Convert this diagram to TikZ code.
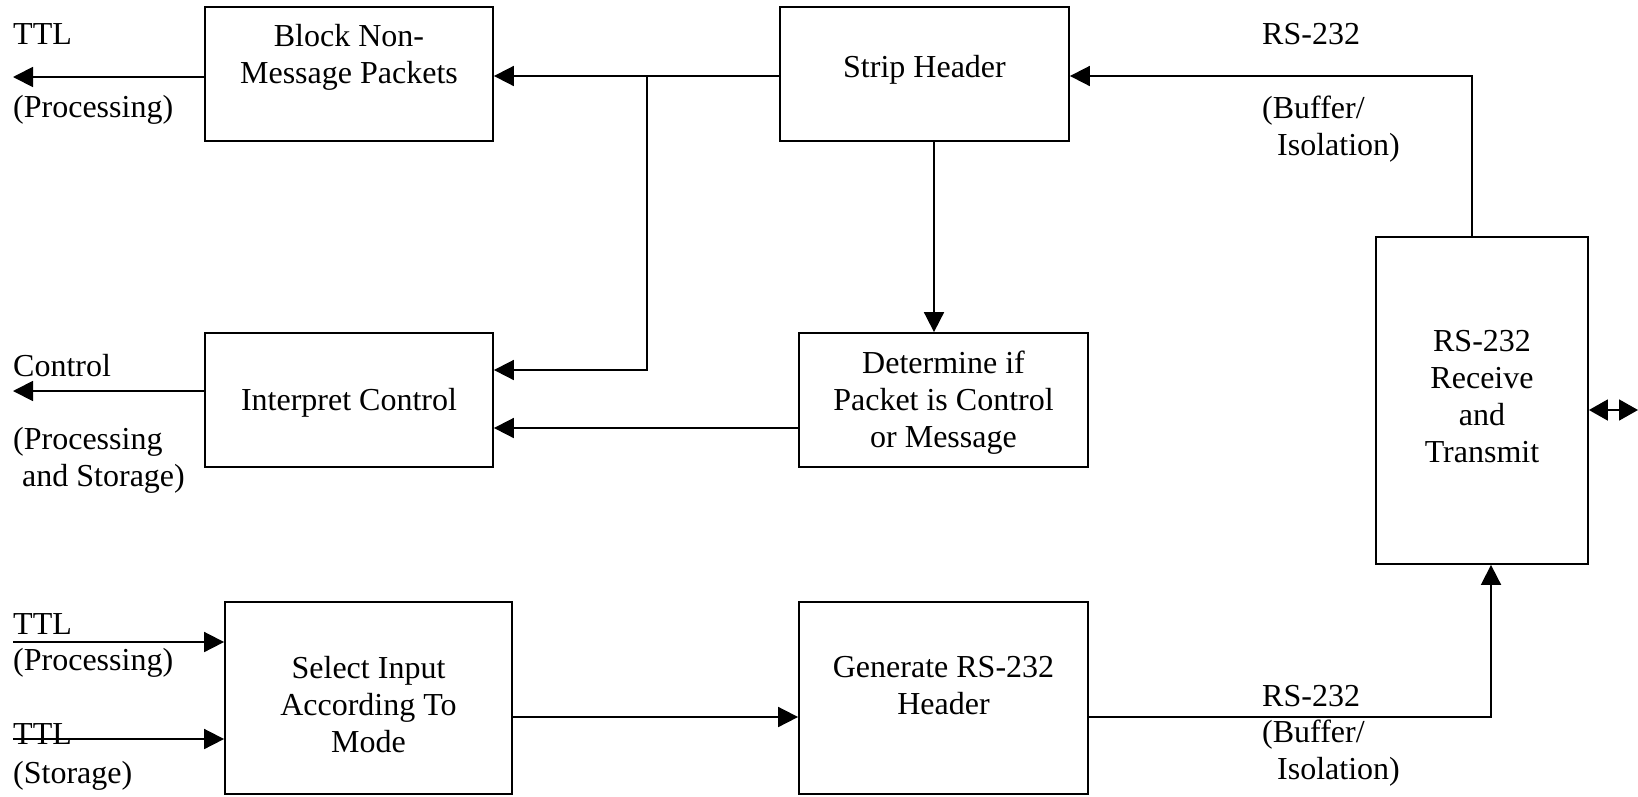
\documentclass[tikz,border=0pt]{standalone}
\usepackage{fontspec}
\setmainfont{Liberation Serif}
\usetikzlibrary{arrows.meta}
\begin{document}
\begin{tikzpicture}[x=1pt,y=-1pt,
  box/.style={draw, line width=1.8pt, inner sep=0pt},
  boxtext/.style={align=center, inner sep=0pt, font=\fontsize{32}{37}\selectfont},
  lbl/.style={anchor=base west, inner sep=0pt, font=\fontsize{32}{37}\selectfont},
  wire/.style={line width=1.8pt},
  arr/.style={wire, -{Triangle[length=20pt,width=20pt]}},
  bothway/.style={wire, {Triangle[length=19pt,width=21pt]}-{Triangle[length=19pt,width=21pt]}}
]
\useasboundingbox (0,0) rectangle (1638,796);

% blocks
\node[box, minimum width=288pt, minimum height=134pt] (block)  at (349,74) {};
\node[box, minimum width=289pt, minimum height=134pt] (strip)  at (924.5,74) {};
\node[box, minimum width=288pt, minimum height=134pt] (interp) at (349,400) {};
\node[box, minimum width=289pt, minimum height=134pt] (determ) at (943.5,400) {};
\node[box, minimum width=212pt, minimum height=327pt] (rs)     at (1482,400.5) {};
\node[box, minimum width=287pt, minimum height=192pt] (select) at (368.5,698) {};
\node[box, minimum width=289pt, minimum height=192pt] (gen)    at (943.5,698) {};

% block captions
\node[boxtext] (block-t)  at (349,58)      {\strut Block Non-\\\strut Message Packets};
\node[boxtext] (strip-t)  at (924.5,69.6)  {\strut Strip Header};
\node[boxtext] (interp-t) at (349,402.6)   {\strut Interpret Control};
\node[boxtext] (determ-t) at (943.5,403)   {\strut Determine if\\\strut Packet is Control\\\strut or Message};
\node[boxtext] (rs-t)     at (1482,399.5)  {\strut RS-232\\\strut Receive\\\strut and\\\strut Transmit};
\node[boxtext] (select-t) at (368.5,708)   {\strut Select Input\\\strut According To\\\strut Mode};
\node[boxtext] (gen-t)    at (943.5,689)   {\strut Generate RS-232\\\strut Header};

% signal labels
\node[lbl] (ttl-a)  at (13,44)    {TTL};
\node[lbl] (ttl-b)  at (13,117)   {(Processing)};
\node[lbl] (rsu-a)  at (1262,44)  {RS-232};
\node[lbl] (rsu-b)  at (1262,118) {(Buffer/};
\node[lbl] (rsu-c)  at (1277,155) {Isolation)};
\node[lbl] (ctl-a)  at (13,376)   {Control};
\node[lbl] (ctl-b)  at (13,449)   {(Processing};
\node[lbl] (ctl-c)  at (22,486)   {and Storage)};
\node[lbl] (in1-a)  at (13,634)   {TTL};
\node[lbl] (in1-b)  at (13,670)   {(Processing)};
\node[lbl] (in2-a)  at (13,744)   {TTL};
\node[lbl] (in2-b)  at (13,783)   {(Storage)};
\node[lbl] (rsd-a)  at (1262,706) {RS-232};
\node[lbl] (rsd-b)  at (1262,742) {(Buffer/};
\node[lbl] (rsd-c)  at (1277,779) {Isolation)};

% connectors
\coordinate (jn) at (647,76);
\coordinate (jb) at (647,370);
\draw[arr] (strip.west |- jn) -- (block.east |- jn);
\draw[arr] (jn) -- (jb) -- (interp.east |- jb);
\draw[arr] (determ.west |- 0,428) -- (interp.east |- 0,428);
\coordinate (out1) at (13,77);
\draw[arr] (block.west |- out1) -- (out1);
\coordinate (out2) at (13,391);
\draw[arr] (interp.west |- out2) -- (out2);
\draw[arr] (934,0 |- strip.south) -- (934,0 |- determ.north);
\coordinate (rsup) at (1472,76);
\draw[arr] (rsup |- rs.north) -- (rsup) -- (strip.east |- rsup);
\coordinate (in1) at (13,642);
\draw[arr] (in1) -- (select.west |- in1);
\coordinate (in2) at (13,739);
\draw[arr] (in2) -- (select.west |- in2);
\draw[arr] (select.east |- 0,717) -- (gen.west |- 0,717);
\coordinate (rsdn) at (1491,717);
\draw[arr] (gen.east |- rsdn) -- (rsdn) -- (rsdn |- rs.south);
\coordinate (bus) at (1638,410);
\draw[bothway] (rs.east |- bus) -- (bus);
\end{tikzpicture}
\end{document}
